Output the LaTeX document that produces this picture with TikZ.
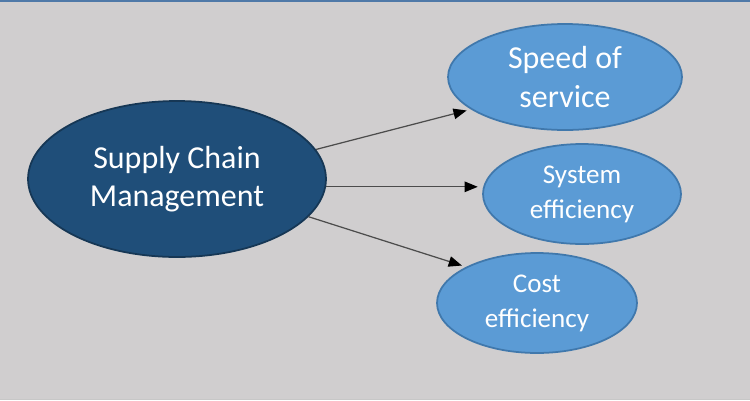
\documentclass[tikz,border=0pt]{standalone}
\usepackage{fontspec}
\setmainfont{Carlito}
\usetikzlibrary{arrows.meta,shapes.geometric}
\definecolor{navy}{RGB}{31,78,121}
\definecolor{sky}{RGB}{91,155,213}
\definecolor{paper}{RGB}{208,206,207}
\definecolor{rim}{RGB}{79,121,168}

\begin{document}
\begin{tikzpicture}[x=0.02cm,y=-0.02cm,>={Triangle[length=7.5pt,width=6pt,color=black]},
      hub/.style={ellipse,fill=navy,draw=navy!70!black,line width=1pt,inner sep=0pt,text=white,align=center,
        minimum width=5.96cm,minimum height=3.12cm,font=\fontsize{18.2}{21.6}\selectfont},
      goal/.style={ellipse,fill=sky,draw=sky!55!navy,line width=1pt,inner sep=0pt,text=white,align=center,
        font=\fontsize{15.4}{19.9}\selectfont},
      link/.style={->,draw=black!70,line width=0.7pt,shorten >=2.5pt}]
    % backdrop and frame lines
    \fill[paper] (0,0) rectangle (750,400);
    \fill[rim] (0,0) rectangle (750,2);
    \fill[black!22] (0,399) rectangle (750,400);
    % ellipses
    \node[hub] (scm) at (177,179) {Supply Chain\\Management};
    \node[goal,minimum width=4.68cm,minimum height=2.12cm,font=\fontsize{18.2}{22.2}\selectfont] (speed) at (565,77) {Speed of\\service};
    \node[goal,minimum width=3.96cm,minimum height=2cm] (sys) at (582,194) {System\\efficiency};
    \node[goal,minimum width=4cm,minimum height=2cm] (cost) at (537,303) {Cost\\efficiency};
    % arrows
    \draw[link] (scm.12) -- (speed.199);
    \draw[link] (scm.357) -- (scm.357 -| sys.west);
    \draw[link] (scm.344) -- (cost.153);
  \end{tikzpicture}
\end{document}
